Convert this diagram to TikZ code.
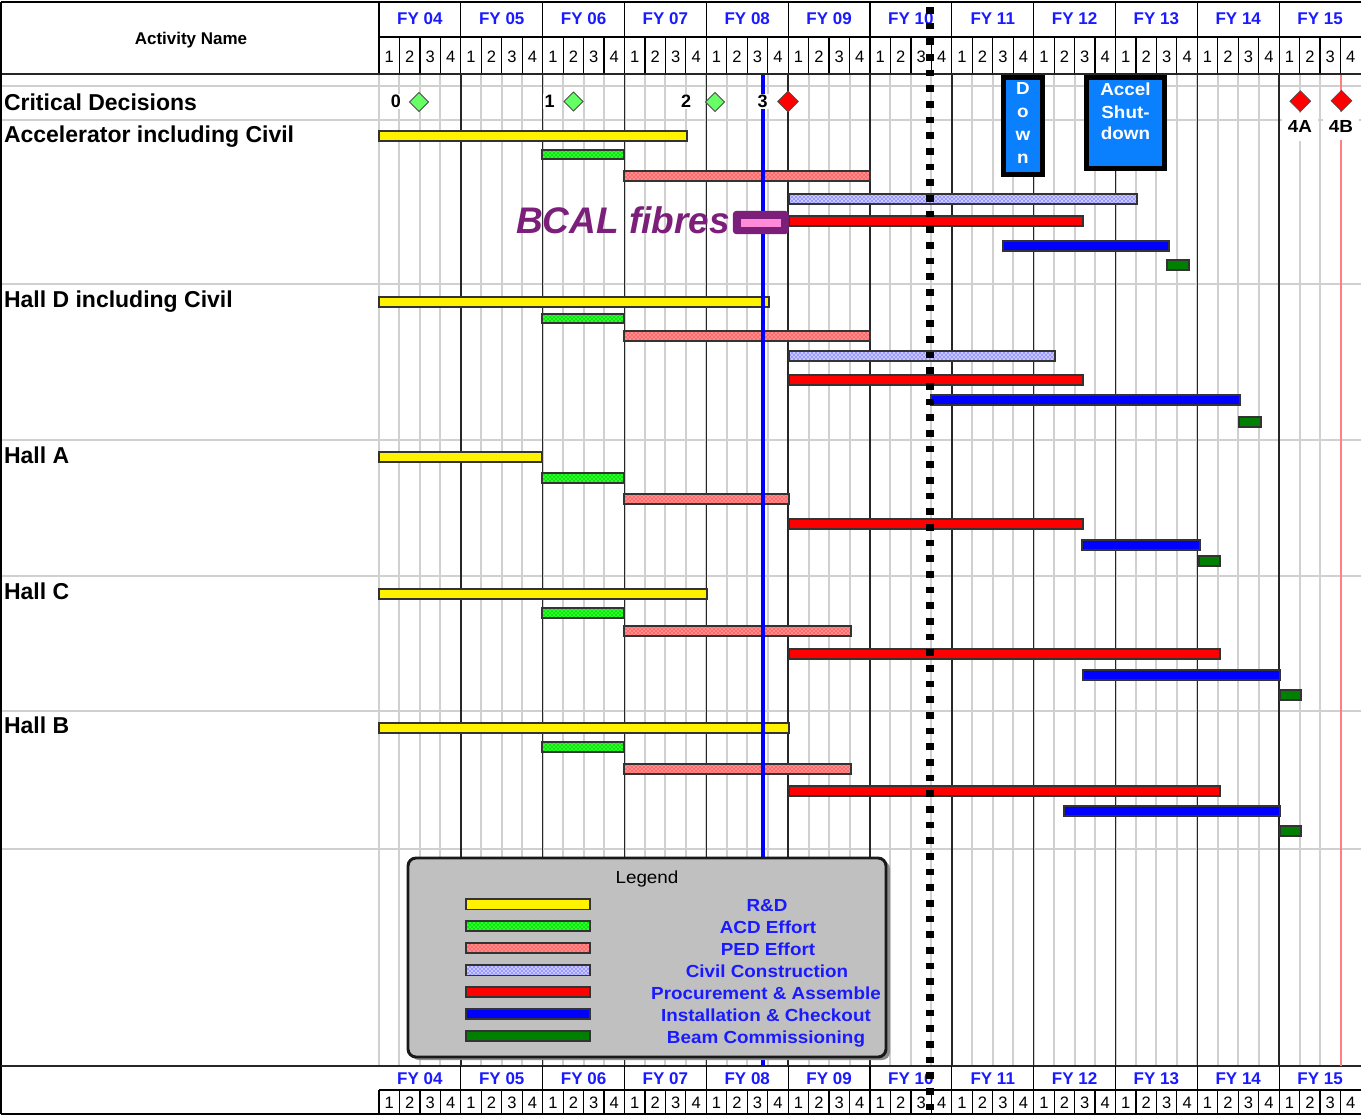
\documentclass[tikz,border=0pt]{standalone}
\usepackage{fontspec}
\setmainfont{Liberation Sans}
\newfontfamily\widefont[FakeStretch=1.08]{Liberation Sans}
\usetikzlibrary{patterns,shapes.geometric}
\definecolor{fyblue}{HTML}{1A1AFF}
\definecolor{gridgrey}{HTML}{D0D0D0}
\definecolor{boxblue}{HTML}{0A80FF}
\definecolor{pedred}{HTML}{FF6A6A}
\definecolor{bcgreen}{HTML}{008000}
\definecolor{acdgreen}{HTML}{00EE00}
\definecolor{bcalpurple}{HTML}{7B1F7B}
\definecolor{bcalpink}{HTML}{FF8AD8}
\definecolor{legendgrey}{HTML}{C0C0C0}
\definecolor{cdgreen}{HTML}{66FF66}
\definecolor{redline}{HTML}{FF8080}
\definecolor{civbase}{HTML}{C8C8FF}
\newcommand{\fsz}[1]{\fontsize{#1}{#1}\selectfont}
\newcommand{\gbar}[5]{\path[#1] (#4,#2) rectangle (#5,#3);}
\begin{document}
\begin{tikzpicture}[x=0.75pt,y=-0.75pt,
  txt/.style={inner sep=0pt, outer sep=0pt},
  rowlab/.style={txt, anchor=base west, font=\bfseries\fsz{17.25pt}},
  fylab/.style={txt, anchor=base, text=fyblue, font=\bfseries\fsz{12.75pt}},
  qlab/.style={txt, anchor=base, font=\fsz{12.4pt}},
  cdnum/.style={anchor=center, fill=white, inner sep=1pt, font=\bfseries\fsz{13.5pt}},
  mslab/.style={anchor=center, fill=white, inner sep=0pt, minimum width=27pt, minimum height=21pt, font=\widefont\bfseries\fsz{13.1pt}},
  boxtxt/.style={txt, anchor=base, text=white, font=\widefont\bfseries\fsz{13.1pt}},
  legtxt/.style={txt, anchor=base, text=fyblue, font=\widefont\bfseries\fsz{13.1pt}},
  bar/.style={draw=black!80, line width=0.9pt},
  rd/.style={bar, fill=yellow},
  acd/.style={bar, preaction={fill=acdgreen}, pattern=crosshatch dots, pattern color=white},
  ped/.style={bar, preaction={fill=pedred}, pattern=crosshatch dots, pattern color=white},
  civ/.style={bar, preaction={fill=civbase}, pattern=crosshatch dots, pattern color=blue},
  pa/.style={bar, fill=red},
  ic/.style={bar, fill=blue},
  bc/.style={bar, fill=bcgreen},
  qline/.style={draw=gridgrey, line width=1.5pt},
  yline/.style={draw=black!85, line width=1.1pt},
  hline/.style={draw=gridgrey, line width=1.5pt},
  frame/.style={draw=black, line width=0.9pt},
  thickframe/.style={draw=black!85, line width=1.5pt},
  gdia/.style={diamond, draw=black!70, fill=cdgreen, inner sep=0pt, minimum width=14.5pt, minimum height=14.5pt, line width=0.6pt},
  rdia/.style={gdia, fill=red, minimum width=15.75pt, minimum height=15.75pt},
  darkbox/.style={draw=black, line width=3.75pt, fill=boxblue},
]
\useasboundingbox (0,0) rectangle (1361,1117);
\fill[white] (0,0) rectangle (1361,1117);

% ---- body grid
\foreach \i in {0,...,47} \draw[qline] ({379+20.4583*\i},74) -- ({379+20.4583*\i},1066);
\foreach \yy in {86,120,284,440,576,849} \draw[hline] (1,\yy) -- (1361,\yy);
\draw[hline] (1,711) -- (1361,711);
\foreach \k in {1,...,11} \draw[yline] ({379+81.833*\k},74) -- ({379+81.833*\k},1066);

% ---- top header
\draw[frame] (1,2) -- (1361,2);
\draw[frame] (379,37) -- (1361,37);
\draw[frame] (379,2) -- (379,74);
\foreach \k in {1,...,11} \draw[frame] ({379+81.833*\k},2) -- ({379+81.833*\k},37);
\foreach \i in {1,...,47} \draw[frame] ({379+20.4583*\i},37) -- ({379+20.4583*\i},74);
\draw[thickframe] (1,74) -- (1361,74);
\draw[frame] (1,2) -- (1,1114);
\node[txt, anchor=base, font=\bfseries\fsz{12.75pt}] (actname) at (191,44) {Activity Name};
\foreach \k/\lab in {0/04,1/05,2/06,3/07,4/08,5/09,6/10,7/11,8/12,9/13,10/14,11/15}{
  \node[fylab] (fyt\k) at ({379+81.833*(\k+0.5)},25) {FY \lab};
  \node[fylab] (fyb\k) at ({379+81.833*(\k+0.5)},1084) {FY \lab};
}
\foreach \i in {0,...,47}{
  \pgfmathtruncatemacro{\qq}{mod(\i,4)+1}
  \node[qlab] (qt\i) at ({379+20.4583*(\i+0.5)},62) {\qq};
  \node[qlab] (qb\i) at ({379+20.4583*(\i+0.5)},1108) {\qq};
}

% ---- bottom header
\draw[thickframe] (1,1066) -- (1361,1066);
\draw[frame] (379,1090) -- (1361,1090);
\draw[frame] (1,1114) -- (1361,1114);
\foreach \k in {1,...,11} \draw[frame] ({379+81.833*\k},1066) -- ({379+81.833*\k},1090);
\foreach \i in {0,...,47} \draw[frame] ({379+20.4583*\i},1090) -- ({379+20.4583*\i},1114);

% ---- row labels
\node[rowlab] (lcd) at (4,110) {Critical Decisions};
\node[rowlab] (lacc) at (4,142) {Accelerator including Civil};
\node[rowlab] (lhd) at (4,307) {Hall D including Civil};
\node[rowlab] (lha) at (4,463) {Hall A};
\node[rowlab] (lhc) at (4,599) {Hall C};
\node[rowlab] (lhb) at (4,733) {Hall B};

% ---- CD4B line
\draw[redline, line width=2.2pt] (1341,75) -- (1341,1066);

% ---- bars: Accelerator
\gbar{rd}{131}{141}{379}{687}
\gbar{acd}{150}{159}{542}{624}
\gbar{ped}{171}{181}{624}{870}
\gbar{civ}{194}{204}{789}{1137}
\gbar{pa}{216}{226}{789}{1083}
\gbar{ic}{241}{251}{1003}{1169}
\gbar{bc}{260}{270}{1167}{1189}
% Hall D
\gbar{rd}{297}{307}{379}{769}
\gbar{acd}{314}{323}{542}{624}
\gbar{ped}{331}{341}{624}{870}
\gbar{civ}{351}{361}{789}{1055}
\gbar{pa}{375}{385}{789}{1083}
\gbar{ic}{395}{405}{931}{1240}
\gbar{bc}{417}{427}{1239}{1261}
% Hall A
\gbar{rd}{452}{462}{379}{542}
\gbar{acd}{473}{483}{542}{624}
\gbar{ped}{494}{504}{624}{789}
\gbar{pa}{519}{529}{789}{1083}
\gbar{ic}{540}{550}{1082}{1200}
\gbar{bc}{556}{566}{1199}{1220}
% Hall C
\gbar{rd}{589}{599}{379}{707}
\gbar{acd}{608}{618}{542}{624}
\gbar{ped}{626}{636}{624}{851}
\gbar{pa}{649}{659}{789}{1220}
\gbar{ic}{670}{680}{1083}{1280}
\gbar{bc}{690}{700}{1280}{1301}
% Hall B
\gbar{rd}{723}{733}{379}{789}
\gbar{acd}{742}{752}{542}{624}
\gbar{ped}{764}{774}{624}{851}
\gbar{pa}{786}{796}{789}{1220}
\gbar{ic}{806}{816}{1064}{1280}
\gbar{bc}{826}{836}{1280}{1301}

% ---- shutdown boxes
\draw[darkbox] (1003.5,77.5) rectangle (1042.5,174);
\node[boxtxt] (dn1) at (1023,94.5) {D};
\node[boxtxt] (dn2) at (1023,117.5) {o};
\node[boxtxt] (dn3) at (1023,140.5) {w};
\node[boxtxt] (dn4) at (1023,163.5) {n};
\draw[darkbox] (1086.5,77.5) rectangle (1164.5,168);
\node[boxtxt] (acc1) at (1125.5,95.5) {Accel};
\node[boxtxt] (acc2) at (1125.5,118) {Shut-};
\node[boxtxt] (acc3) at (1125.5,139.5) {down};

% ---- status line
\draw[blue, line width=3pt] (763,75) -- (763,1066);

% ---- BCAL
\draw[bcalpurple, fill=bcalpurple, line width=0.8pt, rounded corners=2pt] (733.5,211.5) rectangle (788,233.5);
\fill[bcalpink] (741,219) rectangle (781,227);
\node[txt, anchor=base east, text=bcalpurple, font=\bfseries\itshape\fsz{27.75pt}] (bcal) at (730,233) {BCAL fibres};

% ---- legend
\fill[black!45, rounded corners=6pt] (411,861) rectangle (890,1060);
\draw[draw=black!90, fill=legendgrey, line width=2.2pt, rounded corners=6pt] (408,858) rectangle (886,1057);
\node[txt, anchor=base, font=\widefont\fsz{13.1pt}] (legtitle) at (647,883) {Legend};
\gbar{rd}{899}{909.5}{466}{590}
\gbar{acd}{921}{931}{466}{590}
\gbar{ped}{943}{953}{466}{590}
\gbar{civ}{965}{975.5}{466}{590}
\gbar{pa}{987}{997}{466}{590}
\gbar{ic}{1009}{1019}{466}{590}
\gbar{bc}{1031}{1041}{466}{590}
\node[legtxt] (lg1) at (767,911) {R\&D};
\node[legtxt] (lg2) at (768,933) {ACD Effort};
\node[legtxt] (lg3) at (768,955) {PED Effort};
\node[legtxt] (lg4) at (767,977) {Civil Construction};
\node[legtxt] (lg5) at (766,999) {Procurement \& Assemble};
\node[legtxt] (lg6) at (766,1021) {Installation \& Checkout};
\node[legtxt] (lg7) at (766,1043) {Beam Commissioning};

% ---- critical decisions
\node[cdnum] (cd0) at (396,101.5) {0};
\node[gdia] (dia0) at (419,102) {};
\node[cdnum] (cd1) at (549.5,101.5) {1};
\node[gdia] (dia1) at (573.5,101.5) {};
\node[cdnum] (cd2) at (686,101.5) {2};
\node[gdia] (dia2) at (715,102) {};
\node[cdnum] (cd3) at (762.5,101.5) {3};
\node[rdia] (dia3) at (788,101.5) {};
\node[mslab] (cd4a) at (1300,126.5) {4A};
\node[mslab] (cd4b) at (1341,126) {4B};
\node[rdia] (dia4a) at (1300.3,101.2) {};
\node[rdia] (dia4b) at (1341.5,100.7) {};

% ---- today line
\draw[black, line width=5.5pt, dash pattern=on 5pt off 6.75pt] (930,-8.8) -- (930,1125);
\end{tikzpicture}
\end{document}
